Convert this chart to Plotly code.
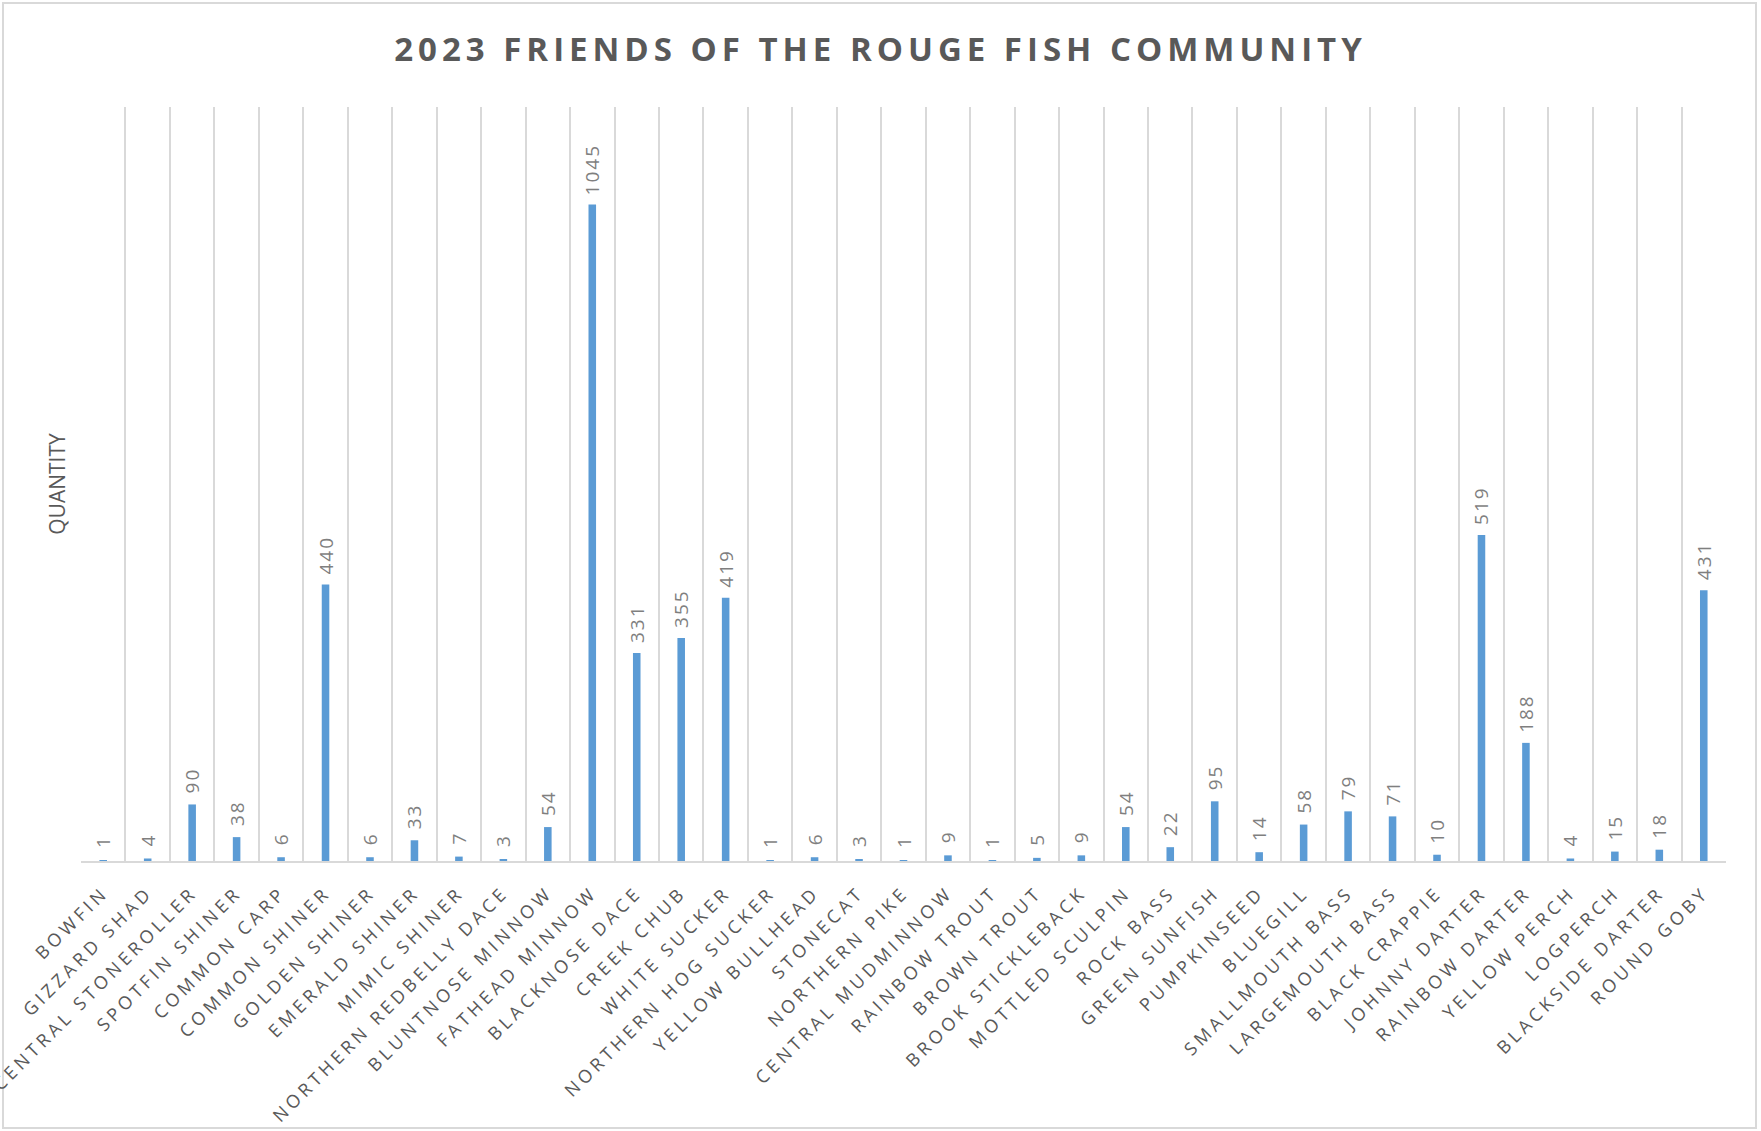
import plotly.graph_objects as go

species = [
    "BOWFIN", "GIZZARD SHAD", "CENTRAL STONEROLLER", "SPOTFIN SHINER", "COMMON CARP",
    "COMMON SHINER", "GOLDEN SHINER", "EMERALD SHINER", "MIMIC SHINER",
    "NORTHERN REDBELLY DACE", "BLUNTNOSE MINNOW", "FATHEAD MINNOW", "BLACKNOSE DACE",
    "CREEK CHUB", "WHITE SUCKER", "NORTHERN HOG SUCKER", "YELLOW BULLHEAD", "STONECAT",
    "NORTHERN PIKE", "CENTRAL MUDMINNOW", "RAINBOW TROUT", "BROWN TROUT",
    "BROOK STICKLEBACK", "MOTTLED SCULPIN", "ROCK BASS", "GREEN SUNFISH", "PUMPKINSEED",
    "BLUEGILL", "SMALLMOUTH BASS", "LARGEMOUTH BASS", "BLACK CRAPPIE", "JOHNNY DARTER",
    "RAINBOW DARTER", "YELLOW PERCH", "LOGPERCH", "BLACKSIDE DARTER", "ROUND GOBY",
]
quantity = [
    1, 4, 90, 38, 6,
    440, 6, 33, 7,
    3, 54, 1045, 331,
    355, 419, 1, 6, 3,
    1, 9, 1, 5,
    9, 54, 22, 95, 14,
    58, 79, 71, 10, 519,
    188, 4, 15, 18, 431,
]
title_text = "2023 FRIENDS OF THE ROUGE FISH COMMUNITY"
y_title = "QUANTITY"

W, H = 1761, 1131
ml, mr, mt, mb = 81, 35, 107, 270
pw, ph = W - ml - mr, H - mt - mb

fig = go.Figure(go.Bar(
    x=species, y=quantity,
    marker=dict(color="#5B9BD5", line=dict(width=0)),
    width=0.17,
    text=[str(v) for v in quantity],
    textposition="outside",
    textangle=-90,
    constraintext="none",
    cliponaxis=False,
    textfont=dict(family="Open Sans", size=19, color="#7F7F7F"),
))

fig.update_layout(
    template="none",
    width=W, height=H,
    margin=dict(l=ml, r=mr, t=mt, b=mb, autoexpand=False),
    paper_bgcolor="white", plot_bgcolor="white",
    showlegend=False,
    title=dict(text=title_text, x=0.5, xanchor="center", xref="container",
               y=1 - 49 / H, yanchor="middle",
               font=dict(family="Open Sans", size=33, color="#595959", weight="bold")),
    xaxis=dict(
        type="category", range=[-0.5, len(species) - 0.5],
        tickson="boundaries", ticks="", showgrid=True,
        gridcolor="#D9D9D9", gridwidth=1.5,
        showline=True, linecolor="#D9D9D9", linewidth=2,
        tickangle=-45, automargin=False, ticklabelstandoff=12,
        tickfont=dict(family="Open Sans", size=18, color="#595959"),
        zeroline=False,
    ),
    yaxis=dict(
        range=[0, 1200], showticklabels=False, showgrid=False, zeroline=False,
        showline=False, ticks="", automargin=False,
        title=dict(text=y_title, standoff=8,
                   font=dict(family="Open Sans", size=21, color="#595959")),
    ),
    shapes=[dict(
        type="rect", xref="paper", yref="paper",
        x0=(3 - ml) / pw, x1=(W - 5 - ml) / pw,
        y0=-(H - 3 - mt - ph) / ph, y1=1 + (mt - 3) / ph,
        line=dict(color="#D9D9D9", width=2), fillcolor="rgba(0,0,0,0)", layer="below",
    )],
)

post = """
document.body.style.margin = '0';
var st = document.createElement('style');
st.textContent = '.gtitle{letter-spacing:5px;} .xtick text{letter-spacing:4px;} ' +
                 'text.bartext{letter-spacing:2px; translate:0px -10px;}';
document.head.appendChild(st);
"""

fig.write_html("out.html", post_script=post, config={"displayModeBar": False})
